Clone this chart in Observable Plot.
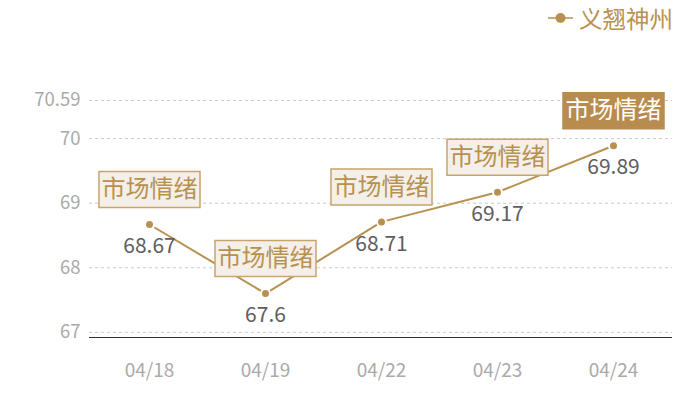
<!DOCTYPE html>
<html><head><meta charset="utf-8">
<script src="https://cdn.jsdelivr.net/npm/d3@7"></script>
<script src="https://cdn.jsdelivr.net/npm/@observablehq/plot@0.6"></script>
<style>
body{margin:0;background:#fff;font-family:"Noto Sans CJK SC","Noto Sans",sans-serif;}
#legend{height:38px;position:relative;}
#legend .item{position:absolute;right:27px;top:3px;display:flex;align-items:center;color:#b89150;font-size:23.5px;line-height:30px;}
#legend svg{margin-right:6px;}
</style></head>
<body>
<div id="legend"><div class="item"><svg width="25" height="12"><line x1="0" y1="6" x2="25" y2="6" stroke="#b89150" stroke-width="1.5"/><circle cx="12.5" cy="6" r="5" fill="#b89150"/></svg><span>义翘神州</span></div></div>
<div id="chart"></div>
<script>
const dates = ["04/18","04/19","04/22","04/23","04/24"];
const values = [68.67, 67.6, 68.71, 69.17, 69.89];
const highlight = [false, false, false, false, true];
const labelText = "市场情绪";
const yTicks = [67, 68, 69, 70, 70.59];
const yDomain = [66.92, 70.59];

const data = dates.map((d, i) => ({date: d, value: values[i], hi: highlight[i]}));
const gold = "#b89150";
const boxSymbol = {draw(ctx){ ctx.rect(-50.5, -53, 101, 36); }};
const font = '"Noto Sans CJK SC","Noto Sans",sans-serif';

const chart = Plot.plot({
  width: 700, height: 362,
  marginTop: 62, marginBottom: 63, marginLeft: 89, marginRight: 28,
  style: {fontFamily: font, background: "#fff"},
  x: {type: "point", domain: dates, padding: 0.5},
  y: {domain: yDomain},
  marks: [
    Plot.gridY(yTicks, {stroke: "#bbb", strokeOpacity: 1, strokeDasharray: "3,3", strokeWidth: 0.8}),
    Plot.axisY(yTicks, {tickSize: 0, tickPadding: 9, fontSize: 18.5, fill: "#aaa", tickFormat: d => String(d), label: null}),
    Plot.axisX({tickSize: 0, tickPadding: 26, fontSize: 19, fill: "#aaa", label: null}),
    Plot.ruleY([yDomain[0]], {stroke: "#333", strokeWidth: 1}),
    Plot.line(data, {x: "date", y: "value", stroke: gold, strokeWidth: 2}),
    Plot.dot(data, {x: "date", y: "value", r: 4.5, fill: gold, stroke: "#fff", strokeWidth: 2}),
    Plot.text(data, {x: "date", y: "value", text: d => String(d.value), dy: 22, fontSize: 21, fill: "#5e5e5e", fontFamily: font}),
    Plot.dot(data, {x: "date", y: "value", symbol: boxSymbol, r: 10, fill: d => d.hi ? "#b88c4e" : "#f4efe8", stroke: d => d.hi ? "#b88c4e" : "#c8a46c", strokeWidth: 1.5}),
    Plot.text(data, {x: "date", y: "value", text: () => labelText, dy: -35, fontSize: 24, fill: d => d.hi ? "#fff" : gold, fontFamily: font})
  ]
});
document.getElementById("chart").appendChild(chart);
</script>
</body></html>
